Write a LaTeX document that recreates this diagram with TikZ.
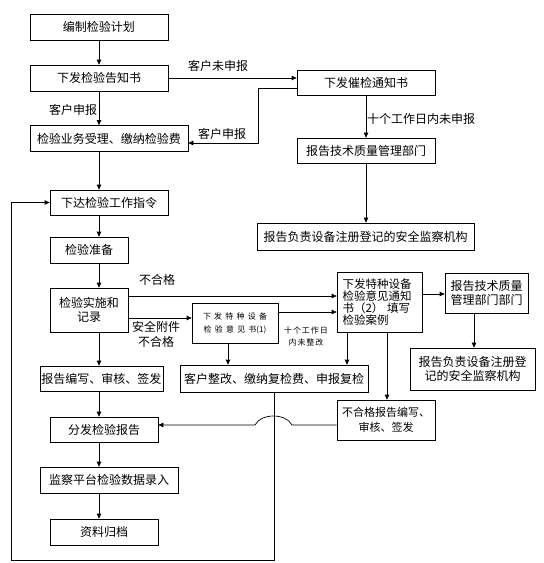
\documentclass[tikz,border=0pt]{standalone}
\usepackage{fontspec}
\newfontfamily\cjk{Noto Sans CJK SC}
\newfontfamily\cjksp[LetterSpace=40]{Noto Sans CJK SC}
\newfontfamily\cjkss[LetterSpace=12]{Noto Sans CJK SC}
\usetikzlibrary{arrows.meta,calc}
\begin{document}
\begin{tikzpicture}[x=1pt,y=-1pt,
  box/.style={draw,line width=0.7pt,inner sep=1pt,align=center,font=\cjk\fontsize{12}{14}\selectfont},
  lbl/.style={font=\cjk\fontsize{12}{14}\selectfont,inner sep=0pt,align=center},
  arr/.style={line width=0.7pt,-{Triangle[length=5pt,width=4.5pt]}},
  ln/.style={line width=0.7pt}]
\useasboundingbox[fill=white] (0,0) rectangle (544,563);
% left column
\node[box,minimum width=138pt,minimum height=26pt] (n1) at (99,27) {编制检验计划};
\node[box,minimum width=138pt,minimum height=26pt] (n2) at (99,78) {下发检验告知书};
\node[box,minimum width=158pt,minimum height=26pt] (n3) at (109,138.5) {检验业务受理、缴纳检验费};
\node[box,minimum width=118pt,minimum height=25pt] (n4) at (109,202.5) {下达检验工作指令};
\node[box,minimum width=78pt,minimum height=26pt] (n5) at (89,250) {检验准备};
\node[box,minimum width=78pt,minimum height=44pt] (n6) at (89,310) {检验实施和\\记录};
\node[box,minimum width=123pt,minimum height=25pt] (n7) at (101.5,378.5) {报告编写、审核、签发};
\node[box,minimum width=108pt,minimum height=25pt] (n8) at (104,429.5) {分发检验报告};
\node[box,minimum width=138pt,minimum height=26pt] (n9) at (109,480) {监察平台检验数据录入};
\node[box,minimum width=108pt,minimum height=26pt] (n10) at (104,532) {资料归档};
% right column
\node[box,minimum width=138pt,minimum height=25pt] (n11) at (366,83) {下发催检通知书};
\node[box,minimum width=138pt,minimum height=25pt] (n12) at (366,150.5) {报告技术质量管理部门};
\node[box,minimum width=217pt,minimum height=27pt] (n13) at (365.5,236.5) {报告负责设备注册登记的安全监察机构};
\node[box,minimum width=86pt,minimum height=40pt,font=\cjksp\fontsize{8}{13}\selectfont] (n14) at (235,323) {下发特种设备\\检验意见书{\cjk(1)}};
\node[box,minimum width=85pt,minimum height=60pt,text width=74pt,align=left,font=\cjk\fontsize{11.5}{12}\selectfont] (n15) at (379.5,302) {下发特种设备\\检验意见通知\\书（2） 填写\\检验案例};
\node[box,minimum width=83pt,minimum height=40pt] (n16) at (486.5,293) {报告技术质量\\管理部门部门};
\node[box,minimum width=125pt,minimum height=42pt] (n17) at (472.5,369) {报告负责设备注册登\\记的安全监察机构};
\node[box,minimum width=188pt,minimum height=27pt] (n18) at (274,378.5) {客户整改、缴纳复检费、申报复检};
\node[box,minimum width=98pt,minimum height=40pt,font=\cjk\fontsize{11}{15}\selectfont] (n19) at (386,420) {不合格报告编写、\\审核、签发};
% labels
\node[lbl] (l1) at (218,66) {客户未申报};
\node[lbl] (l2) at (73,110) {客户申报};
\node[lbl] (l3) at (222,134) {客户申报};
\node[lbl,anchor=west] (l4) at (367,119) {十个工作日内未申报};
\node[lbl] (l5) at (157,280) {不合格};
\node[lbl,font=\cjk\fontsize{12}{15}\selectfont] (l6) at (156,334) {安全附件\\不合格};
\node[lbl,font=\cjkss\fontsize{8}{12}\selectfont] (l7) at (306,336) {十个工作日\\内未整改};
% helper coordinates
\coordinate (c1) at (258,88);
\coordinate (c2) at (258,143);
\coordinate (ya) at (0,296);
\coordinate (yb) at (0,318);
\coordinate (yc) at (0,312);
\coordinate (yd) at (0,294);
\coordinate (xa) at (228,0);
\coordinate (xb) at (347,0);
\coordinate (xc) at (387,0);
\coordinate (xd) at (474,0);
\coordinate (hopR) at (292,425);
\coordinate (hopL) at (255,425);
\coordinate (lb) at (11,560);
% left column arrows
\draw[arr] (n1.south) -- (n2.north);
\draw[arr] (n2.south) -- (n3.north -| n2.south);
\draw[arr] (n3.south -| n1.south) -- (n4.north -| n1.south);
\draw[arr] (n4.south -| n1.south) -- (n5.north -| n1.south);
\draw[arr] (n5.south -| n1.south) -- (n6.north -| n1.south);
\draw[arr] (n6.south -| n1.south) -- (n7.north -| n1.south);
\draw[arr] (n7.south -| n1.south) -- (n8.north -| n1.south);
\draw[arr] (n8.south -| n1.south) -- (n9.north -| n1.south);
\draw[arr] (n9.south -| n1.south) -- (n10.north -| n1.south);
% top right
\draw[arr] (n2.east) -- (n2.east -| n11.west);
\draw[arr] (n11.west |- c1) -- (c1) -- (c2) -- (c2 -| n3.east);
\draw[arr] (n11.south) -- (n12.north);
\draw[arr] (n12.south) -- (n12.south |- n13.north);
% middle
\draw[arr] (n6.east |- ya) -- (n15.west |- ya);
\draw[arr] (n6.east |- yb) -- (n14.west |- yb);
\draw[arr] (n14.east |- yc) -- (n15.west |- yc);
\draw[arr] (n15.east |- yd) -- (n16.west |- yd);
\draw[arr] (n14.south -| xa) -- (n18.north -| xa);
\draw[arr] (n15.south -| xb) -- (n18.north -| xb);
\draw[arr] (n15.south -| xc) -- (n19.north -| xc);
\draw[arr] (n16.south -| xd) -- (n17.north -| xd);
% return to report distribution with hop
\draw[arr] (hopR -| n19.west) -- (hopR) .. controls (286,413) and (261,413) .. (hopL) -- (hopL -| n8.east);
% loop back
\draw[arr] (n18.south) -- (n18.south |- lb) -- (lb) -- (lb |- n4.west) -- (n4.west);
\end{tikzpicture}
\end{document}
